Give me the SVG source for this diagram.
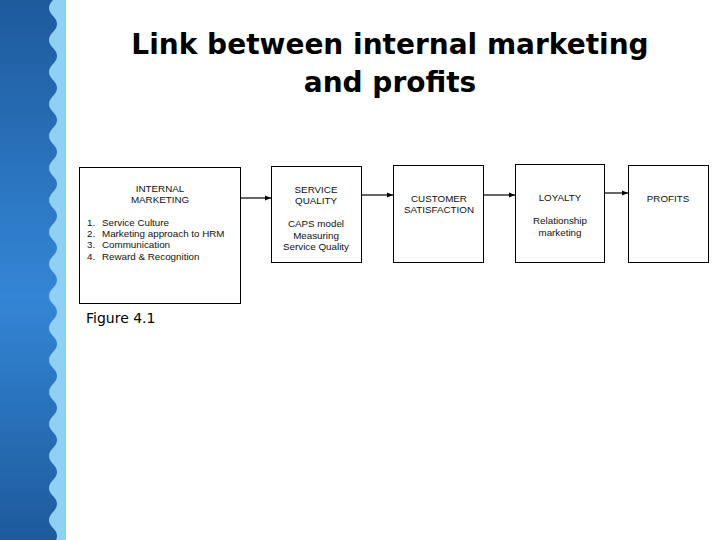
<svg xmlns="http://www.w3.org/2000/svg" width="720" height="540" viewBox="0 0 720 540">
<defs>
<linearGradient id="bg" x1="0" y1="0" x2="0" y2="1">
<stop offset="0" stop-color="#1d5a9c"/>
<stop offset="0.55" stop-color="#3486d6"/>
<stop offset="1" stop-color="#1d5a9c"/>
</linearGradient>
<marker id="ah" viewBox="0 0 10 10" refX="10" refY="5" markerWidth="6" markerHeight="6" orient="auto" markerUnits="userSpaceOnUse">
<path d="M0,1 L10,5 L0,9 Z" fill="#000"/>
</marker>
<style>
.box{fill:#fff;stroke:#000;stroke-width:1}
.t{font-family:"Liberation Sans",Arial,sans-serif;font-size:9.8px;fill:#111}
.c{text-anchor:middle}
.conn{stroke:#000;stroke-width:1.2;fill:none;marker-end:url(#ah)}
</style>
</defs>
<rect width="720" height="540" fill="#fff"/>
<g id="background">
<rect x="0" y="0" width="66" height="540" fill="url(#bg)"/>
<path d="M66,0 L53,0 Q45,8 53,16 Q61,24 53,32 Q45,40 53,48 Q61,56 53,64 Q45,72 53,80 Q61,88 53,96 Q45,104 53,112 Q61,120 53,128 Q45,136 53,144 Q61,152 53,160 Q45,168 53,176 Q61,184 53,192 Q45,200 53,208 Q61,216 53,224 Q45,232 53,240 Q61,248 53,256 Q45,264 53,272 Q61,280 53,288 Q45,296 53,304 Q61,312 53,320 Q45,328 53,336 Q61,344 53,352 Q45,360 53,368 Q61,376 53,384 Q45,392 53,400 Q61,408 53,416 Q45,424 53,432 Q61,440 53,448 Q45,456 53,464 Q61,472 53,480 Q45,488 53,496 Q61,504 53,512 Q45,520 53,528 Q61,536 53,544 L66,540 Z" fill="#8fd0f4"/>
</g>
<g id="title" font-family="'DejaVu Sans',Verdana,sans-serif" font-weight="bold" font-size="28" text-anchor="middle" fill="#000">
<text x="390" y="54">Link between internal marketing</text>
<text x="390" y="92">and profits</text>
</g>
<g id="connectors">
<line class="conn" x1="241" y1="198" x2="271" y2="198"/>
<line class="conn" x1="362" y1="195" x2="393" y2="195"/>
<line class="conn" x1="484" y1="195" x2="515" y2="195"/>
<line class="conn" x1="604" y1="193" x2="628" y2="193"/>
</g>
<g id="internal-marketing">
<rect class="box" x="79.5" y="167.5" width="161" height="136"/>
<text class="t c" x="160" y="192">INTERNAL</text>
<text class="t c" x="160" y="203">MARKETING</text>
<text class="t" x="87" y="226">1.</text><text class="t" x="102" y="226">Service Culture</text>
<text class="t" x="87" y="237">2.</text><text class="t" x="102" y="237">Marketing approach to HRM</text>
<text class="t" x="87" y="248">3.</text><text class="t" x="102" y="248">Communication</text>
<text class="t" x="87" y="260">4.</text><text class="t" x="102" y="260">Reward &amp; Recognition</text>
</g>
<g id="service-quality">
<rect class="box" x="271.5" y="166.5" width="90" height="96"/>
<text class="t c" x="316" y="193">SERVICE</text>
<text class="t c" x="316" y="204">QUALITY</text>
<text class="t c" x="316" y="227">CAPS model</text>
<text class="t c" x="316" y="239">Measuring</text>
<text class="t c" x="316" y="250">Service Quality</text>
</g>
<g id="customer-satisfaction">
<rect class="box" x="393.5" y="165.5" width="90" height="97"/>
<text class="t c" x="439" y="202">CUSTOMER</text>
<text class="t c" x="439" y="213">SATISFACTION</text>
</g>
<g id="loyalty">
<rect class="box" x="515.5" y="164.5" width="89" height="98"/>
<text class="t c" x="560" y="201">LOYALTY</text>
<text class="t c" x="560" y="224">Relationship</text>
<text class="t c" x="560" y="236">marketing</text>
</g>
<g id="profits">
<rect class="box" x="628.5" y="165.5" width="80" height="97"/>
<text class="t c" x="668" y="202">PROFITS</text>
</g>
<text x="86" y="323" font-family="'DejaVu Sans',Tahoma,sans-serif" font-size="14" fill="#000">Figure 4.1</text>
</svg>
